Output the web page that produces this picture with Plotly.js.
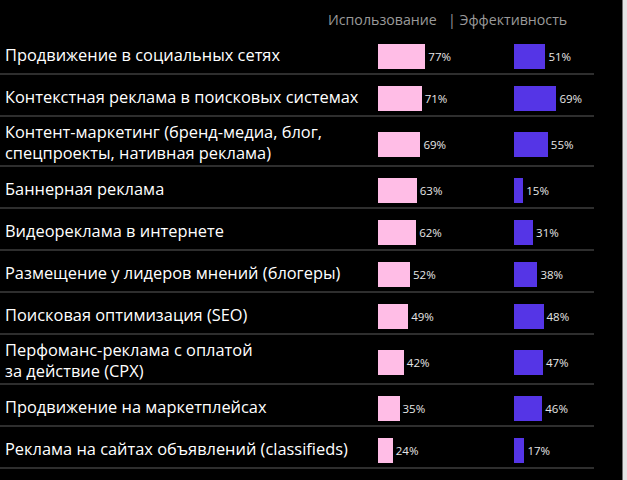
<!DOCTYPE html>
<html>
<head>
<meta charset="utf-8">
<script src="https://cdn.plot.ly/plotly-3.0.1.min.js"></script>
<style>html,body{margin:0;padding:0;background:#000;}#chart{width:627px;height:480px;}</style>
</head>
<body>
<div id="chart"></div>
<script>
// ---- data ----
var categories = [
  "Продвижение в социальных сетях",
  "Контекстная реклама в поисковых системах",
  "Контент-маркетинг (бренд-медиа, блог,<br>спецпроекты, нативная реклама)",
  "Баннерная реклама",
  "Видеореклама в интернете",
  "Размещение у лидеров мнений (блогеры)",
  "Поисковая оптимизация (SEO)",
  "Перфоманс-реклама с оплатой<br>за действие (CPX)",
  "Продвижение на маркетплейсах",
  "Реклама на сайтах объявлений (classifieds)"
];
var usage = [77, 71, 69, 63, 62, 52, 49, 42, 35, 24];
var effectiveness = [51, 69, 55, 15, 31, 38, 48, 47, 46, 17];
var seriesNames = ["Использование", "Эффективность"];

// ---- layout helpers (pixel-like y units) ----
var W = 627, H = 480;
var top0 = 32, rowSingle = 42, rowExtra = 8;
var bounds = [top0];
var centers = [];
categories.forEach(function (c) {
  var lines = c.split("<br>").length;
  var h = rowSingle + (lines - 1) * rowExtra;
  var t = bounds[bounds.length - 1];
  centers.push(t + h / 2);
  bounds.push(t + h);
});
var barCenters = centers.map(function (c) { return c + 3; });
var pxPerPct = 0.615;
var x1Start = 378, x2Start = 514;

var textFont = {family: "Open Sans, sans-serif", size: 11.5, color: "#e6e6e6"};
var traces = [
  {
    type: "bar", orientation: "h", name: seriesNames[0],
    x: usage, y: barCenters, width: 25, xaxis: "x", yaxis: "y",
    marker: {color: "#ffbde6"},
    text: usage.map(function (v) { return v + "%"; }),
    textposition: "outside", cliponaxis: false, constraintext: "none",
    textfont: textFont, hoverinfo: "skip"
  },
  {
    type: "bar", orientation: "h", name: seriesNames[1],
    x: effectiveness, y: barCenters, width: 25, xaxis: "x2", yaxis: "y",
    marker: {color: "#5535e6"},
    text: effectiveness.map(function (v) { return v + "%"; }),
    textposition: "outside", cliponaxis: false, constraintext: "none",
    textfont: textFont, hoverinfo: "skip"
  }
];

var annotations = categories.map(function (c, i) {
  return {
    text: c, xref: "paper", yref: "y", x: 3 / W, y: centers[i] + 1,
    xanchor: "left", yanchor: "middle", align: "left", showarrow: false,
    font: {family: "Open Sans, sans-serif", size: 16.4, color: "#ffffff"}
  };
});
annotations.push({
  text: seriesNames[0], xref: "paper", yref: "y", x: 439 / W, y: 19,
  xanchor: "right", yanchor: "middle", showarrow: false,
  font: {family: "Open Sans, sans-serif", size: 14.2, color: "#9a9a9a"}
});
annotations.push({
  text: "| " + seriesNames[1], xref: "paper", yref: "y", x: 446 / W, y: 19,
  xanchor: "left", yanchor: "middle", showarrow: false,
  font: {family: "Open Sans, sans-serif", size: 14.2, color: "#9a9a9a"}
});

var shapes = bounds.slice(1).map(function (b) {
  return {type: "line", xref: "paper", yref: "y", x0: 0, x1: 594 / W, y0: b, y1: b,
          line: {color: "#2e2e2e", width: 2}};
});
shapes.push({type: "rect", xref: "paper", yref: "paper", x0: 622.5 / W, x1: 1, y0: 0, y1: 1,
             fillcolor: "#e4e4e4", line: {width: 0}, layer: "above"});

var layout = {
  width: W, height: H,
  margin: {l: 0, r: 0, t: 0, b: 0, pad: 0},
  paper_bgcolor: "#000", plot_bgcolor: "#000",
  showlegend: false, hovermode: false, bargap: 0,
  xaxis: {domain: [x1Start / W, (x1Start + 100 * pxPerPct) / W], range: [0, 100],
          visible: false, fixedrange: true, anchor: "y"},
  xaxis2: {domain: [x2Start / W, (x2Start + 100 * pxPerPct) / W], range: [0, 100],
           visible: false, fixedrange: true, anchor: "y"},
  yaxis: {range: [H, 0], visible: false, fixedrange: true, domain: [0, 1]},
  annotations: annotations,
  shapes: shapes
};

Plotly.newPlot("chart", traces, layout, {displayModeBar: false, staticPlot: true});
</script>
</body>
</html>
